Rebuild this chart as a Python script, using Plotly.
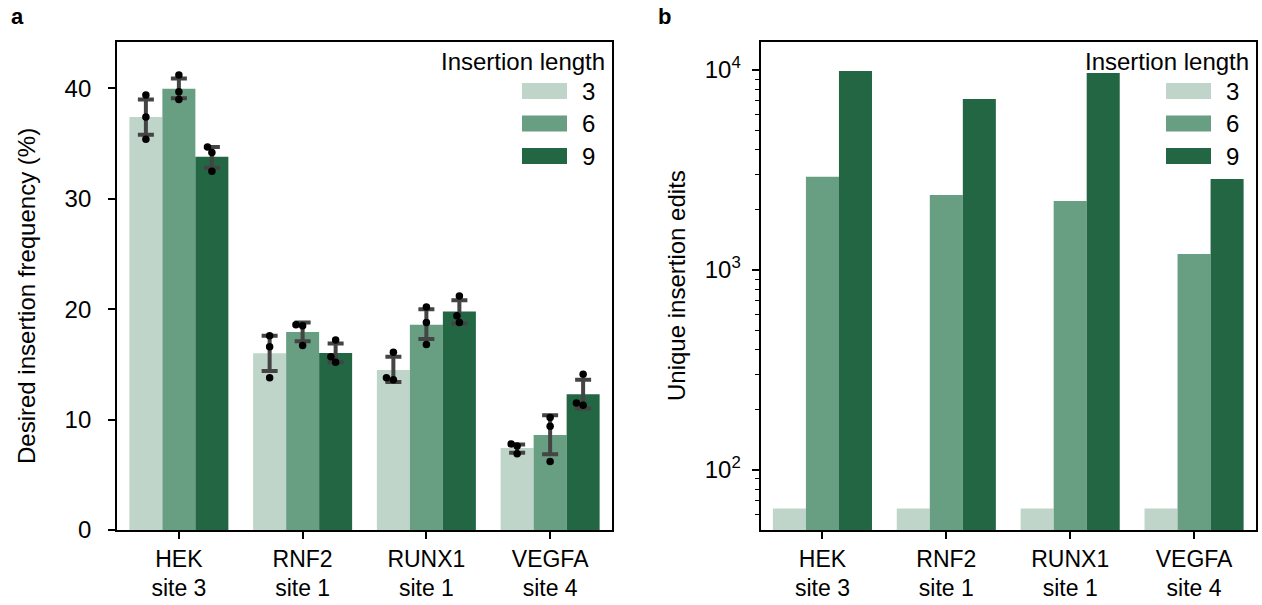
import numpy as np
import plotly.graph_objects as go

# ---- data -------------------------------------------------------------
sites = ["HEK<br>site 3", "RNF2<br>site 1", "RUNX1<br>site 1", "VEGFA<br>site 4"]
lengths = ["3", "6", "9"]
colors = ["#bfd5ca", "#689e82", "#236644"]

# desired insertion frequency (%), three replicates per site
freq_len3 = [[39.4, 37.4, 35.4], [17.6, 16.6, 13.8], [16.1, 13.8, 13.6], [7.8, 7.6, 6.9]]
freq_len6 = [[41.2, 39.7, 39.0], [18.6, 18.5, 16.7], [20.2, 18.8, 16.8], [10.2, 9.4, 6.2]]
freq_len9 = [[34.7, 34.2, 32.5], [17.2, 15.7, 15.2], [21.2, 19.4, 18.8], [14.1, 11.5, 11.3]]

# confidence interval bounds of the mean
ci_hi_len3 = [39.0, 17.6, 15.7, 7.75]
ci_lo_len3 = [35.8, 14.4, 13.4, 7.0]
ci_hi_len6 = [40.9, 18.8, 20.0, 10.4]
ci_lo_len6 = [39.1, 17.1, 17.3, 6.85]
ci_hi_len9 = [34.7, 16.9, 20.8, 13.6]
ci_lo_len9 = [32.8, 15.2, 18.7, 11.0]

# horizontal strip offsets of the replicate dots
jit_len3 = [[0, 0, 0], [0, 0, 0], [0, -0.056, 0], [-0.048, 0, 0]]
jit_len6 = [[0, 0, 0], [-0.054, 0, 0], [0, 0, 0], [0, 0, 0]]
jit_len9 = [[-0.035, 0, 0], [0, -0.038, 0], [0, -0.02, 0], [0, -0.054, 0]]

# number of unique insertion edits
edits_len3 = [64, 64, 64, 64]
edits_len6 = [2920, 2370, 2210, 1200]
edits_len9 = [9890, 7160, 9660, 2850]

y_ticks_a = [0, 10, 20, 30, 40]
y_ticks_b = [100, 1000, 10000]
y_ticktext_b = ["10<sup>2</sup>", "10<sup>3</sup>", "10<sup>4</sup>"]
y_minor_b = [60, 70, 80, 90, 200, 300, 400, 500, 600, 700, 800, 900,
             2000, 3000, 4000, 5000, 6000, 7000, 8000, 9000]

freqs = [freq_len3, freq_len6, freq_len9]
ci_hi = [ci_hi_len3, ci_hi_len6, ci_hi_len9]
ci_lo = [ci_lo_len3, ci_lo_len6, ci_lo_len9]
jits = [jit_len3, jit_len6, jit_len9]
edits = [edits_len3, edits_len6, edits_len9]

# ---- geometry of the grouped bars --------------------------------------
FONT = "Liberation Sans, Arial, Helvetica, sans-serif"
FS = 24
n_hue = len(lengths)
bar_w = 0.8 / n_hue
offsets = [(k - (n_hue - 1) / 2) * bar_w for k in range(n_hue)]
centers = np.arange(len(sites))

fig = go.Figure()

for k in range(n_hue):
    reps = np.array(freqs[k], dtype=float)
    means = reps.mean(axis=1)
    hi = np.array(ci_hi[k]) - means
    lo = means - np.array(ci_lo[k])
    xpos = centers + offsets[k]
    fig.add_trace(go.Bar(
        x=xpos, y=means, width=bar_w, marker=dict(color=colors[k], line=dict(width=0)),
        error_y=dict(type="data", symmetric=False, array=hi, arrayminus=lo,
                     color="#444444", thickness=4, width=8),
        xaxis="x", yaxis="y", showlegend=False, name=lengths[k]))

for k in range(n_hue):
    reps = np.array(freqs[k], dtype=float)
    jit = np.array(jits[k], dtype=float)
    xs = (centers + offsets[k])[:, None] + jit
    fig.add_trace(go.Scatter(
        x=xs.ravel(), y=reps.ravel(), mode="markers",
        marker=dict(color="black", size=7.5, line=dict(width=0)),
        xaxis="x", yaxis="y", showlegend=False, hoverinfo="y"))

for k in range(n_hue):
    fig.add_trace(go.Bar(
        x=centers + offsets[k], y=edits[k], width=bar_w,
        marker=dict(color=colors[k], line=dict(width=0)),
        xaxis="x2", yaxis="y2", showlegend=False, name=lengths[k]))

# ---- axes ---------------------------------------------------------------
L, R, T, B = 117, 6, 42, 75
W, H = 1262, 605
pw = W - L - R
tfont = dict(family=FONT, size=FS, color="black")
xfont = dict(family=FONT, size=23, color="black")
axis_common = dict(showline=True, linecolor="black", linewidth=1.8, mirror=True,
                   ticks="outside", ticklen=7, tickwidth=1.6, tickcolor="black",
                   showgrid=False, zeroline=False, automargin=False)

fig.update_layout(
    width=W, height=H, margin=dict(l=L, r=R, t=T, b=B, autoexpand=False),
    paper_bgcolor="white", plot_bgcolor="white", barmode="overlay",
    font=tfont,
    xaxis=dict(domain=[0, 495 / pw], range=[-0.5, 3.5], tickvals=list(centers),
               ticktext=sites, tickfont=xfont, **axis_common),
    yaxis=dict(domain=[0, 1], range=[0, 44.2], tickvals=y_ticks_a, tickfont=tfont,
               ticklabelstandoff=12, **axis_common),
    xaxis2=dict(domain=[(760.5 - L) / pw, 1], range=[-0.5, 3.5], tickvals=list(centers),
                ticktext=sites, anchor="y2", tickfont=xfont, **axis_common),
    yaxis2=dict(domain=[0, 1], type="log", range=[np.log10(50), 4.14], anchor="x2",
                tickvals=y_ticks_b, ticktext=y_ticktext_b, ticklabelstandoff=6,
                tickfont=tfont,
                minor=dict(tickvals=y_minor_b, ticks="outside", ticklen=4,
                           tickwidth=1.4, tickcolor="black", showgrid=False),
                **axis_common),
)

# ---- axis titles and panel letters ---------------------------------------
ann = []
ann.append(dict(text="Desired insertion frequency (%)", xref="paper", yref="paper",
                x=0, xshift=26 - L, y=0.5, yshift=-10, textangle=-90, showarrow=False,
                xanchor="center", yanchor="middle", font=tfont))
ann.append(dict(text="Unique insertion edits", xref="paper", yref="paper",
                x=(760.5 - L) / pw, xshift=676 - 760.5, y=0.5, textangle=-90,
                showarrow=False, xanchor="center", yanchor="middle", font=tfont))
ann.append(dict(text="<b>a</b>", xref="paper", yref="paper", x=0, xshift=17 - L,
                y=1, yshift=T - 16, showarrow=False, xanchor="center", yanchor="middle",
                font=dict(family=FONT, size=22, color="black")))
ann.append(dict(text="<b>b</b>", xref="paper", yref="paper", x=0, xshift=664 - L,
                y=1, yshift=T - 16, showarrow=False, xanchor="center", yanchor="middle",
                font=dict(family=FONT, size=22, color="black")))

# ---- legends (one per panel) ----------------------------------------------
shapes = []
swatch_y = [91, 123.5, 156]
for xa, ya in (("x", "y"), ("x2", "y2")):
    ann.append(dict(text="Insertion length", xref=f"{xa} domain", yref=f"{ya} domain",
                    x=1, xshift=-5, y=1, yshift=-(61 - T), xanchor="right",
                    yanchor="middle", showarrow=False, font=tfont))
    for k in range(n_hue):
        shapes.append(dict(type="rect", xref=f"{xa} domain", yref=f"{ya} domain",
                           xsizemode="pixel", ysizemode="pixel", xanchor=1, yanchor=1,
                           x0=-90, x1=-45, y0=-(swatch_y[k] - T) - 8,
                           y1=-(swatch_y[k] - T) + 8,
                           fillcolor=colors[k], line=dict(width=0)))
        ann.append(dict(text=lengths[k], xref=f"{xa} domain", yref=f"{ya} domain",
                        x=1, xshift=-24, y=1, yshift=-(swatch_y[k] - T),
                        xanchor="center", yanchor="middle", showarrow=False,
                        font=tfont))

fig.update_layout(annotations=ann, shapes=shapes)
fig.write_html("out.html")
